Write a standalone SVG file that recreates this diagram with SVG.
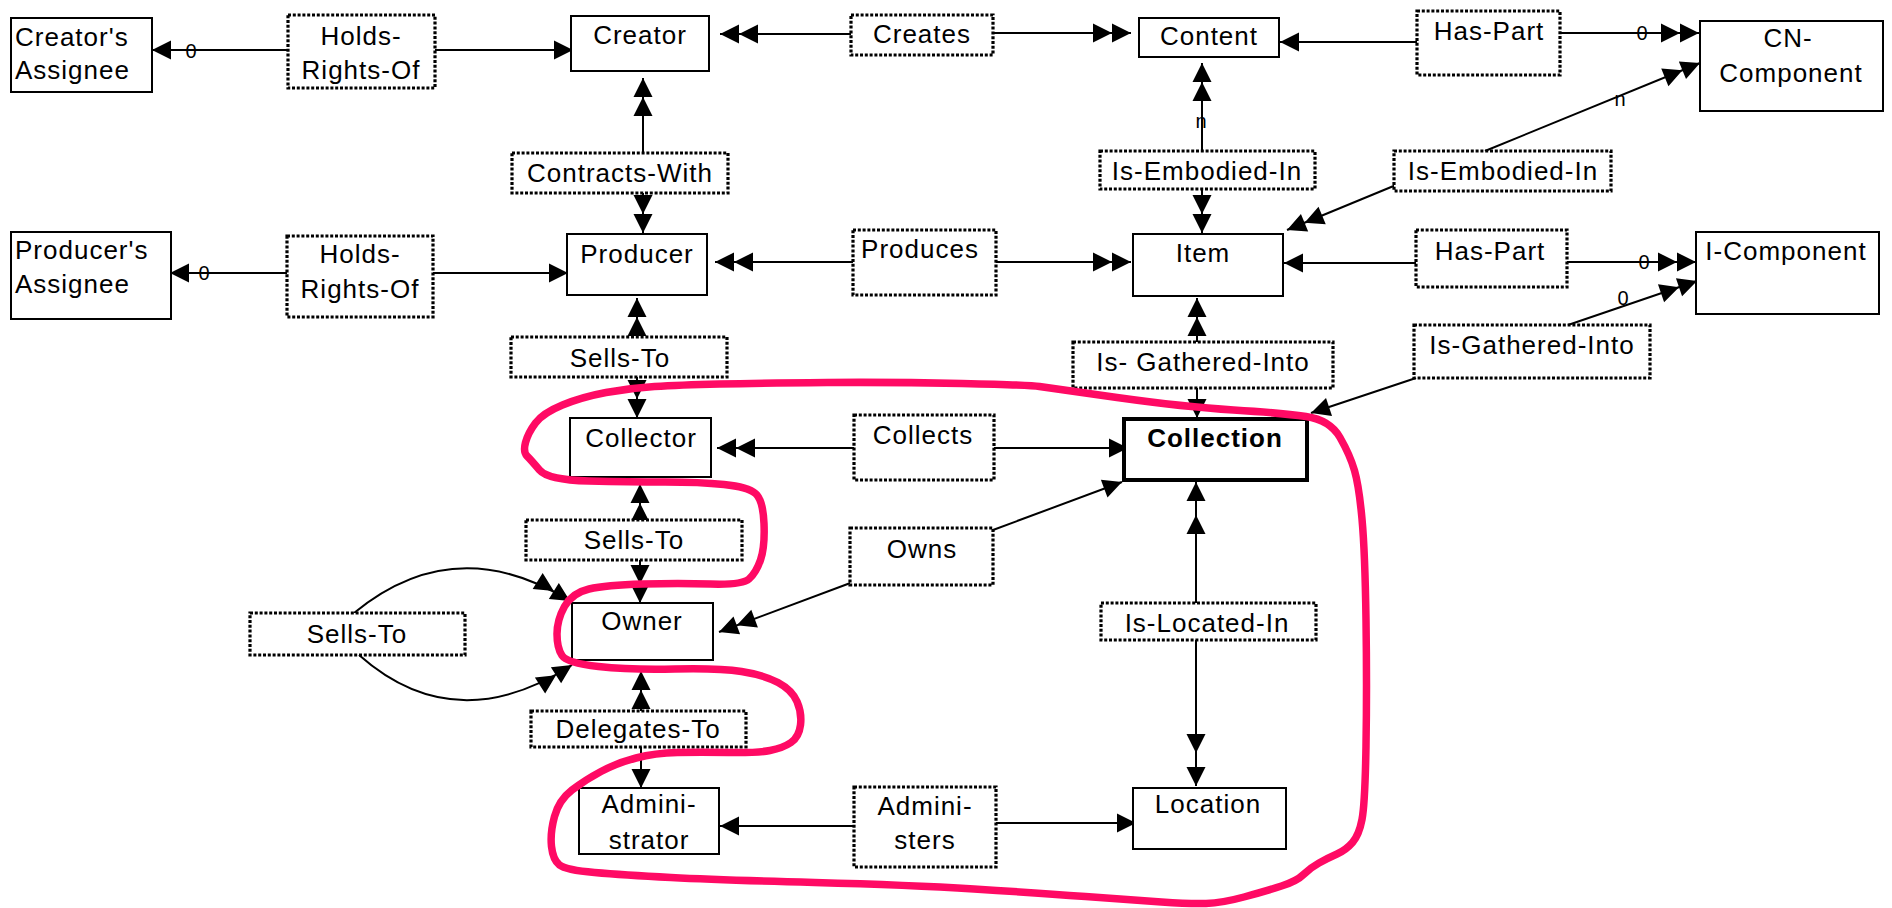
<svg xmlns="http://www.w3.org/2000/svg" width="1892" height="908" viewBox="0 0 1892 908">
<style>
.e{fill:#fff;stroke:#000;stroke-width:2}
.eb{fill:#fff;stroke:#000;stroke-width:4}
.r{fill:#fff;stroke:#000;stroke-width:3.2;stroke-dasharray:3 1.8}
.t{font-family:"Liberation Sans",Arial,sans-serif;font-size:26px;letter-spacing:1px;fill:#000}
.m{text-anchor:middle}
.b{font-weight:bold}
.c{stroke:#000;stroke-width:2;fill:none}
.s{marker-end:url(#a1)}
.d{marker-end:url(#a2)}
.w{marker-end:url(#a3)}
.n{font-family:"Liberation Sans",Arial,sans-serif;font-size:20px;text-anchor:middle;fill:#000}
</style>
<defs>
<marker id="a1" markerUnits="userSpaceOnUse" orient="auto" viewBox="-24 -12 26 24" refX="0" refY="0" markerWidth="26" markerHeight="24"><path d="M0,0 L-19,-9.5 L-19,9.5 Z" fill="#000"/></marker>
<marker id="a2" markerUnits="userSpaceOnUse" orient="auto" viewBox="-42 -12 44 24" refX="0" refY="0" markerWidth="44" markerHeight="24"><path d="M0,0 L-19,-9.5 L-19,9.5 Z M-19,0 L-38,-9.5 L-38,9.5 Z" fill="#000"/></marker>
<marker id="a3" markerUnits="userSpaceOnUse" orient="auto" viewBox="-56 -12 58 24" refX="0" refY="0" markerWidth="58" markerHeight="24"><path d="M0,0 L-19,-9.5 L-19,9.5 Z M-33,0 L-52,-9.5 L-52,9.5 Z" fill="#000"/></marker>
</defs>
<rect width="1892" height="908" fill="#fff"/>
<g id="connectors">
<line class="c s" x1="288" y1="50" x2="152" y2="50"/>
<text class="n" x="191" y="58">0</text>
<line class="c s" x1="435" y1="50" x2="573" y2="50"/>
<line class="c d" x1="851" y1="34" x2="720" y2="34"/>
<line class="c d" x1="993" y1="33" x2="1131" y2="33"/>
<line class="c s" x1="1417" y1="42" x2="1280" y2="42"/>
<line class="c d" x1="1560" y1="33" x2="1699" y2="33"/>
<text class="n" x="1642" y="40">0</text>
<line class="c d" x1="643" y1="153" x2="643" y2="78"/>
<line class="c d" x1="643" y1="193" x2="643" y2="233"/>
<line class="c s" x1="287" y1="273" x2="170" y2="273"/>
<text class="n" x="204" y="280">0</text>
<line class="c s" x1="433" y1="273" x2="568" y2="273"/>
<line class="c d" x1="853" y1="262" x2="715" y2="262"/>
<line class="c d" x1="996" y1="262" x2="1131" y2="262"/>
<line class="c d" x1="1202" y1="151" x2="1202" y2="63"/>
<text class="n" x="1201" y="128">n</text>
<line class="c d" x1="1202" y1="189" x2="1202" y2="233"/>
<line class="c d" x1="1396" y1="185" x2="1287" y2="230"/>
<line class="c d" x1="1485" y1="151" x2="1700" y2="63"/>
<text class="n" x="1620" y="106">n</text>
<line class="c s" x1="1416" y1="263" x2="1284" y2="263"/>
<line class="c d" x1="1567" y1="262" x2="1696" y2="262"/>
<text class="n" x="1644" y="269">0</text>
<line class="c d" x1="1568" y1="325" x2="1697" y2="281"/>
<text class="n" x="1623" y="305">0</text>
<line class="c s" x1="1416" y1="378" x2="1311" y2="413"/>
<line class="c d" x1="1197" y1="342" x2="1197" y2="298"/>
<line class="c s" x1="1197" y1="388" x2="1197" y2="418"/>
<line class="c d" x1="637" y1="337" x2="637" y2="298"/>
<line class="c d" x1="637" y1="377" x2="637" y2="418"/>
<line class="c d" x1="854" y1="448" x2="717" y2="448"/>
<line class="c s" x1="994" y1="448" x2="1128" y2="448"/>
<line class="c d" x1="640" y1="520" x2="640" y2="484"/>
<line class="c d" x1="640" y1="560" x2="640" y2="603"/>
<line class="c s" x1="993" y1="530" x2="1122" y2="482"/>
<line class="c d" x1="853" y1="582" x2="719" y2="632"/>
<line class="c w" x1="1196" y1="603" x2="1196" y2="482"/>
<line class="c w" x1="1196" y1="640" x2="1196" y2="786"/>
<path class="c d" d="M354,613 Q455,530 570,601"/>
<path class="c d" d="M359,655 Q455,740 572,665"/>
<line class="c d" x1="641" y1="711" x2="641" y2="671"/>
<line class="c s" x1="641" y1="747" x2="641" y2="788"/>
<line class="c s" x1="854" y1="826" x2="720" y2="826"/>
<line class="c s" x1="996" y1="823" x2="1136" y2="823"/>
</g>
<g id="creators-assignee"><rect class="e" x="11" y="18" width="141" height="74"/><text class="t" x="15" y="46">Creator's</text><text class="t" x="15" y="79">Assignee</text></g>
<g id="holds-rights-of-1"><rect class="r" x="288" y="15" width="147" height="73"/><text class="t m" x="361" y="45">Holds-</text><text class="t m" x="361" y="79">Rights-Of</text></g>
<g id="creator"><rect class="e" x="571" y="16" width="138" height="55"/><text class="t m" x="640" y="44">Creator</text></g>
<g id="creates"><rect class="r" x="851" y="15" width="142" height="40"/><text class="t m" x="922" y="43">Creates</text></g>
<g id="content"><rect class="e" x="1139" y="18" width="140" height="39"/><text class="t m" x="1209" y="45">Content</text></g>
<g id="has-part-1"><rect class="r" x="1417" y="11" width="143" height="64"/><text class="t m" x="1489" y="40">Has-Part</text></g>
<g id="cn-component"><rect class="e" x="1700" y="21" width="183" height="90"/><text class="t m" x="1788" y="47">CN-</text><text class="t m" x="1791" y="82">Component</text></g>
<g id="contracts-with"><rect class="r" x="512" y="153" width="216" height="40"/><text class="t m" x="620" y="182">Contracts-With</text></g>
<g id="is-embodied-in-1"><rect class="r" x="1100" y="151" width="215" height="38"/><text class="t m" x="1207" y="180">Is-Embodied-In</text></g>
<g id="is-embodied-in-2"><rect class="r" x="1394" y="151" width="217" height="40"/><text class="t m" x="1503" y="180">Is-Embodied-In</text></g>
<g id="producers-assignee"><rect class="e" x="11" y="232" width="160" height="87"/><text class="t" x="15" y="259">Producer's</text><text class="t" x="15" y="293">Assignee</text></g>
<g id="holds-rights-of-2"><rect class="r" x="287" y="236" width="146" height="81"/><text class="t m" x="360" y="263">Holds-</text><text class="t m" x="360" y="298">Rights-Of</text></g>
<g id="producer"><rect class="e" x="567" y="234" width="140" height="61"/><text class="t m" x="637" y="263">Producer</text></g>
<g id="produces"><rect class="r" x="853" y="230" width="143" height="65"/><text class="t m" x="920" y="258">Produces</text></g>
<g id="item"><rect class="e" x="1133" y="234" width="150" height="62"/><text class="t m" x="1203" y="262">Item</text></g>
<g id="has-part-2"><rect class="r" x="1416" y="230" width="151" height="57"/><text class="t m" x="1490" y="260">Has-Part</text></g>
<g id="i-component"><rect class="e" x="1696" y="232" width="183" height="82"/><text class="t m" x="1786" y="260">I-Component</text></g>
<g id="sells-to-1"><rect class="r" x="511" y="337" width="216" height="40"/><text class="t m" x="620" y="367">Sells-To</text></g>
<g id="is-gathered-into-1"><rect class="r" x="1073" y="342" width="260" height="46"/><text class="t m" x="1203" y="371">Is- Gathered-Into</text></g>
<g id="is-gathered-into-2"><rect class="r" x="1414" y="325" width="236" height="53"/><text class="t m" x="1532" y="354">Is-Gathered-Into</text></g>
<g id="collector"><rect class="e" x="570" y="418" width="141" height="59"/><text class="t m" x="641" y="447">Collector</text></g>
<g id="collects"><rect class="r" x="854" y="415" width="140" height="65"/><text class="t m" x="923" y="444">Collects</text></g>
<g id="collection"><rect class="eb" x="1124" y="419" width="183" height="61"/><text class="t m b" x="1215" y="447">Collection</text></g>
<g id="sells-to-2"><rect class="r" x="526" y="520" width="216" height="40"/><text class="t m" x="634" y="549">Sells-To</text></g>
<g id="owns"><rect class="r" x="850" y="528" width="143" height="57"/><text class="t m" x="922" y="558">Owns</text></g>
<g id="sells-to-3"><rect class="r" x="250" y="613" width="215" height="42"/><text class="t m" x="357" y="643">Sells-To</text></g>
<g id="owner"><rect class="e" x="572" y="603" width="141" height="57"/><text class="t m" x="642" y="630">Owner</text></g>
<g id="is-located-in"><rect class="r" x="1101" y="603" width="215" height="37"/><text class="t m" x="1207" y="632">Is-Located-In</text></g>
<g id="delegates-to"><rect class="r" x="531" y="711" width="215" height="36"/><text class="t m" x="638" y="738">Delegates-To</text></g>
<g id="administrator"><rect class="e" x="579" y="788" width="140" height="66"/><text class="t m" x="649" y="813">Admini-</text><text class="t m" x="649" y="849">strator</text></g>
<g id="administers"><rect class="r" x="854" y="787" width="142" height="80"/><text class="t m" x="925" y="815">Admini-</text><text class="t m" x="925" y="849">sters</text></g>
<g id="location"><rect class="e" x="1133" y="788" width="153" height="61"/><text class="t m" x="1208" y="813">Location</text></g>
<g id="highlight">
<path d="M1161.5,902 Q1133,900 1085.5,896.5 Q1038,893 974,889 Q910,885 814.5,882.5 Q719,880 671,877.5 Q623,875 594.5,872.5 Q566,870 559.5,865 Q553,860 551.5,846.5 Q550,833 554.5,816.5 Q559,800 572,790 Q585,780 601,771.5 Q617,763 636,758 Q655,753 677.5,752.5 Q700,752 728.5,752.5 Q757,753 770,750.5 Q783,748 791,742.5 Q799,737 800.5,725 Q802,713 797,701.5 Q792,690 778,682.5 Q764,675 741.5,671.5 Q719,668 674.5,669 Q630,670 598.5,666.5 Q567,663 562,655.5 Q557,648 557,634 Q557,620 564.5,606.5 Q572,593 589,589 Q606,585 642.5,584 Q679,583 710.5,584 Q742,585 749,579 Q756,573 760.5,560 Q765,547 764,523.5 Q763,500 755.5,493.5 Q748,487 724,484.5 Q700,482 665,482 Q630,482 589,481 Q548,480 539.5,470 Q531,460 527,456 Q523,452 525.5,442.5 Q528,433 535.5,423 Q543,413 562.5,405 Q582,397 606,392.5 Q630,388 654.5,386.5 Q679,385 719.5,384 Q760,383 827,382.5 Q894,382 962,383.5 Q1030,385 1039.5,386.5 Q1049,388 1117,397.5 Q1185,407 1233.5,410 Q1282,413 1306,416.5 Q1330,420 1340,437.5 Q1350,455 1354.5,470.5 Q1359,486 1362,519 Q1365,552 1366,620 Q1367,688 1366,746 Q1365,804 1362,819.5 Q1359,835 1352.5,842.5 Q1346,850 1337,854 Q1328,858 1319,863 Q1310,868 1303.5,874.5 Q1297,881 1281.5,886 Q1266,891 1244,897 Q1222,903 1206,903.5 Q1190,904 1161.5,902 Z" fill="none" stroke="#ff0a64" stroke-width="7.5" stroke-linejoin="round"/>
</g>
</svg>
